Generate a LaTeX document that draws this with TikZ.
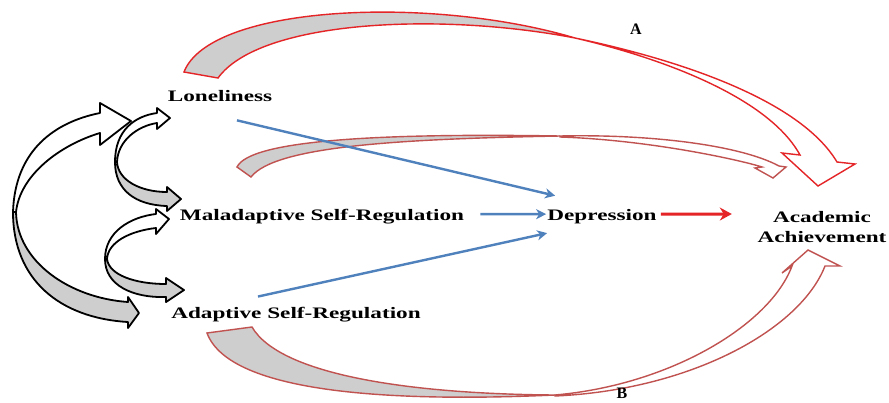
\documentclass[tikz,border=0pt]{standalone}
\usepackage{fontspec}
\setmainfont{Liberation Serif}
\usetikzlibrary{arrows.meta}

\definecolor{redA}{RGB}{228,36,38}
\definecolor{redB}{RGB}{192,82,80}
\definecolor{blueArr}{RGB}{79,129,189}
\definecolor{ribbonGrey}{RGB}{206,206,206}

\begin{document}
\begin{tikzpicture}[x=1pt,y=-1pt,
  lbl/.style={font=\bfseries\fontsize{16}{20}\selectfont, xscale=1.45, inner sep=0pt},
  letter/.style={font=\bfseries\fontsize{16}{18}\selectfont, inner sep=0pt},
  ribbonK/.style={draw=black, line width=1.8pt, line join=round},
  ribbonA/.style={draw=redA, line width=1.4pt, line join=miter},
  ribbonB/.style={draw=redB, line width=1.4pt, line join=miter},
  bluelink/.style={draw=blueArr, line width=2.4pt, -{Stealth[length=10pt,width=10pt,inset=3pt]}},
  redlink/.style={draw=redA, line width=3pt, -{Stealth[length=12pt,width=13pt,inset=4pt]}}
]
\useasboundingbox (0,0) rectangle (889,402);
\fill[white] (0,0) rectangle (889,402);

% ---- labels ----
\node[lbl, anchor=base] (lon) at (220,101) {Loneliness};
\node[lbl, anchor=base] (mal) at (322,220) {Maladaptive Self-Regulation};
\node[lbl, anchor=base] (ada) at (296,318) {Adaptive Self-Regulation};
\node[lbl, anchor=base] (dep) at (602,220) {Depression};
\node[lbl, align=center] (ach) at (822,227.5) {Academic\\Achievement};

% ---- twisted double-headed ribbons on the left ----
% outer loop: Loneliness <-> Adaptive Self-Regulation
\draw[ribbonK, fill=ribbonGrey] (16,212) .. controls (17,262) and (70,298) .. (128,302)
  -- (128,297) -- (139,313) -- (128,328) -- (128,322)
  .. controls (60,318) and (13,280) .. (13,212) -- cycle;
\draw[ribbonK, fill=white] (13,212) .. controls (15,150) and (55,122) .. (100,113)
  -- (100,103) -- (131,121) -- (100,145) -- (100,133)
  .. controls (60,145) and (20,175) .. (16,212) -- cycle;

% Loneliness <-> Maladaptive Self-Regulation
\draw[ribbonK, fill=ribbonGrey] (117,162) .. controls (118,180) and (140,192) .. (167,192)
  -- (167,187) -- (181,199) -- (167,211) -- (167,206)
  .. controls (135,205) and (115,190) .. (115,162) -- cycle;
\draw[ribbonK, fill=white] (115,162) .. controls (115,130) and (135,116) .. (157,113)
  -- (157,108) -- (170,118) -- (157,129) -- (157,123)
  .. controls (138,126) and (118,140) .. (117,162) -- cycle;

% Maladaptive <-> Adaptive Self-Regulation
\draw[ribbonK, fill=ribbonGrey] (107,259) .. controls (109,275) and (135,284) .. (166,284)
  -- (166,278) -- (184,290) -- (166,302) -- (166,297)
  .. controls (132,298) and (105,285) .. (105,259) -- cycle;
\draw[ribbonK, fill=white] (105,259) .. controls (105,232) and (130,217) .. (156,214)
  -- (156,209) -- (169,219) -- (156,234) -- (156,228)
  .. controls (130,231) and (108,242) .. (107,259) -- cycle;

% ---- path A: Loneliness -> Academic Achievement ----
\draw[ribbonA, fill=ribbonGrey] (184,72) .. controls (210,5) and (430,-5) .. (575,38)
  .. controls (440,12) and (260,20) .. (218,78) -- cycle;
\draw[ribbonA, fill=white] (575,38) .. controls (680,60) and (800,100) .. (837,162)
  -- (855,164) -- (818,186) -- (782,153) -- (800,155)
  .. controls (770,100) and (670,60) .. (575,38) -- cycle;

% ---- Maladaptive Self-Regulation -> Academic Achievement ----
\draw[ribbonB, fill=ribbonGrey] (237,167) .. controls (250,140) and (380,133) .. (560,136)
  .. controls (400,139) and (275,146) .. (251,177) -- cycle;
\draw[ribbonB, fill=white] (560,136) .. controls (650,134) and (740,145) .. (779,166)
  -- (786,167) -- (773,178) -- (755,168) -- (762,167)
  .. controls (740,160) and (650,140) .. (560,137) -- cycle;

% ---- path B: Adaptive Self-Regulation -> Academic Achievement ----
\draw[ribbonB, fill=ribbonGrey] (207,333) .. controls (230,395) and (400,402) .. (555,395)
  .. controls (410,394) and (280,375) .. (252,327) -- cycle;
\draw[ribbonB, fill=white] (555,395) .. controls (670,385) and (770,325) .. (792,266)
  -- (782,273) -- (808,250) -- (840,266) -- (825,266)
  .. controls (800,330) and (690,390) .. (555,396) -- cycle;

% ---- path letters ----
\node[letter, anchor=base] (la) at (636,34) {A};
\node[letter, anchor=base] (lb) at (622,398) {B};

% ---- mediation links ----
\draw[bluelink] ([xshift=17pt,yshift=-19pt]lon.south) -- ([xshift=8pt,yshift=13pt]dep.north west);
\draw[bluelink] ([xshift=16pt,yshift=2pt]mal.east) -- ([xshift=-1pt,yshift=2pt]dep.west);
\draw[bluelink] ([xshift=-38pt,yshift=10pt]ada.north) -- ([yshift=-9.5pt]dep.south west);
\draw[redlink] ([xshift=4pt,yshift=2pt]dep.east) -- ([xshift=-25.5pt,yshift=13.5pt]ach.west);
\end{tikzpicture}
\end{document}
